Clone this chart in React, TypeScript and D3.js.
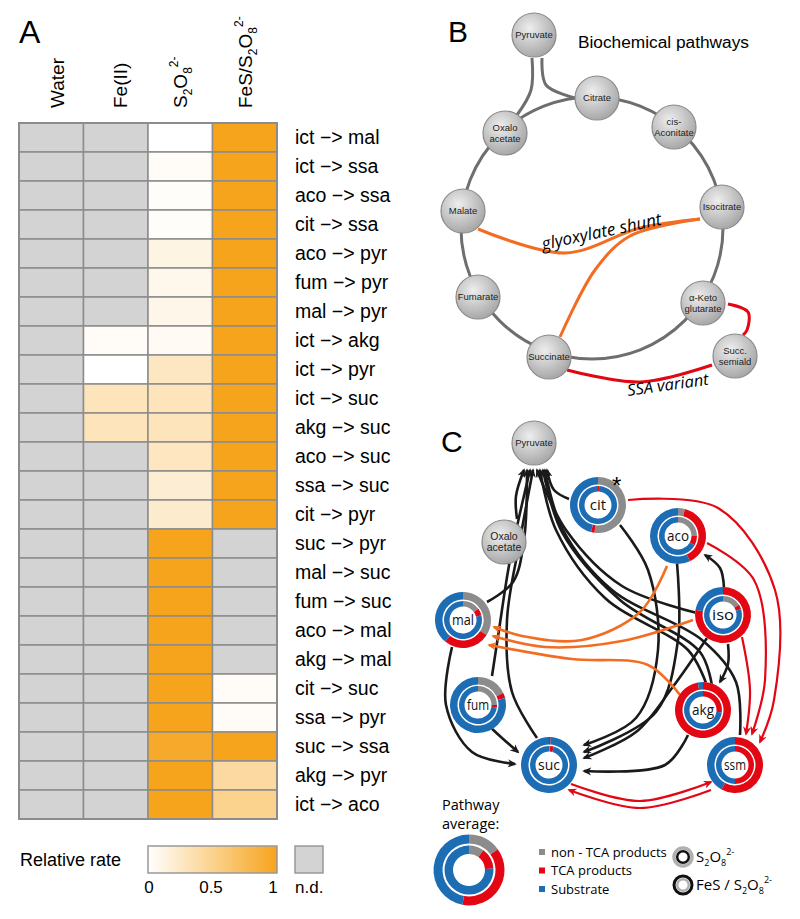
import * as d3 from 'd3';

// ---- Panel A data ----
const reactions = [
  'ict −> mal', 'ict −> ssa', 'aco −> ssa', 'cit −> ssa', 'aco −> pyr', 'fum −> pyr',
  'mal −> pyr', 'ict −> akg', 'ict −> pyr', 'ict −> suc', 'akg −> suc', 'aco −> suc',
  'ssa −> suc', 'cit −> pyr', 'suc −> pyr', 'mal −> suc', 'fum −> suc', 'aco −> mal',
  'akg −> mal', 'cit −> suc', 'ssa −> pyr', 'suc −> ssa', 'akg −> pyr', 'ict −> aco',
];
const conditions = ['Water', 'Fe(II)', 'S2O8', 'FeS/S2O8'];
// null = n.d.
const water = [null, null, null, null, null, null, null, null, null, null, null, null,
  null, null, null, null, null, null, null, null, null, null, null, null];
const fe2 = [null, null, null, null, null, null, null, 0.04, 0, 0.3, 0.3, null,
  null, null, null, null, null, null, null, null, null, null, null, null];
const s2o8 = [0, 0.03, 0.02, 0.02, 0.12, 0.09, 0.1, 0.05, 0.27, 0.3, 0.3, 0.28,
  0.2, 0.22, 1, 1, 1, 1, 1, 1, 1, 0.94, 1, 1];
const fesS2o8 = [1, 1, 1, 1, 1, 1, 1, 1, 1, 1, 1, 1,
  1, 1, null, null, null, null, null, 0.04, 0.04, 1, 0.42, 0.5];
const columns = [water, fe2, s2o8, fesS2o8];
const legendTicks = [0, 0.5, 1];

// ---- Panel B ----
const pathwayNodes = [
  { id: 'Pyruvate', lines: ['Pyruvate'] },
  { id: 'Citrate', lines: ['Citrate'] },
  { id: 'Aconitate', lines: ['cis-', 'Aconitate'] },
  { id: 'Oxalo', lines: ['Oxalo', 'acetate'] },
  { id: 'Malate', lines: ['Malate'] },
  { id: 'Isocitrate', lines: ['Isocitrate'] },
  { id: 'Fumarate', lines: ['Fumarate'] },
  { id: 'Keto', lines: ['α-Keto', 'glutarate'] },
  { id: 'Succinate', lines: ['Succinate'] },
  { id: 'SSA', lines: ['Succ.', 'semiald'] },
];

// ---- Panel C: fractions [non-TCA, TCA, substrate] ----
const metabolites = ['cit', 'aco', 'iso', 'mal', 'fum', 'suc', 'akg', 'ssm'];
const innerS2O8 = [
  [0, 1, 99], [25, 8, 67], [16, 4, 80], [15, 6, 79],
  [25, 2, 73], [1, 3, 96], [0, 27, 73], [0, 50, 50],
];
const outerFeS = [
  [52, 2, 46], [4, 39, 57], [0, 78, 22], [34, 27, 39],
  [18, 3, 79], [0, 1, 99], [0, 97, 3], [0, 58, 42],
];
const avgInner = [10, 14, 76];
const avgOuter = [15, 38, 47];
const fractionLabels = ['non - TCA products', 'TCA products', 'Substrate'];

const cEdges = [
  // black: to pyruvate
  { from: 'oxa', to: 'pyr', kind: 'k' }, { from: 'cit', to: 'pyr', kind: 'k' },
  { from: 'mal', to: 'pyr', kind: 'k' }, { from: 'fum', to: 'pyr', kind: 'k' },
  { from: 'suc', to: 'pyr', kind: 'k' }, { from: 'iso', to: 'pyr', kind: 'k' },
  { from: 'aco', to: 'pyr', kind: 'k' }, { from: 'akg', to: 'pyr', kind: 'k' },
  { from: 'ssm', to: 'pyr', kind: 'k' },
  // black: to succinate
  { from: 'mal', to: 'suc', kind: 'k' }, { from: 'fum', to: 'suc', kind: 'k' },
  { from: 'cit', to: 'suc', kind: 'k' }, { from: 'aco', to: 'suc', kind: 'k' },
  { from: 'iso', to: 'suc', kind: 'k' }, { from: 'akg', to: 'suc', kind: 'k' },
  { from: 'iso', to: 'aco', kind: 'k' }, { from: 'iso', to: 'akg', kind: 'k' },
  // orange: glyoxylate shunt
  { from: 'aco', to: 'mal', kind: 'o' }, { from: 'iso', to: 'mal', kind: 'o' },
  { from: 'akg', to: 'mal', kind: 'o' },
  // red: SSA variant
  { from: 'cit', to: 'ssm', kind: 'r' }, { from: 'aco', to: 'ssm', kind: 'r' },
  { from: 'iso', to: 'ssm', kind: 'r' }, { from: 'suc', to: 'ssm', kind: 'r' },
  { from: 'ssm', to: 'suc', kind: 'r' },
];

// ---- layout ----
const bPos: Record<string, [number, number]> = {
  Pyruvate: [534, 35], Citrate: [597, 98], Aconitate: [674, 127], Oxalo: [505, 133],
  Malate: [463, 211], Isocitrate: [722, 207], Fumarate: [478, 297], Keto: [703, 303],
  Succinate: [549, 357], SSA: [735, 356],
};
const cPos: Record<string, [number, number]> = {
  pyr: [534, 443], oxa: [504, 542], cit: [598, 505], aco: [678, 536], iso: [723, 615],
  mal: [463, 620], fum: [478, 705], suc: [549, 765], akg: [703, 710], ssm: [735, 765],
};
const cRoutes: [number, number][][] = [
  [[517, 519], [516, 496], [524, 470]],
  [[569, 499], [554, 490], [547, 470]],
  [[487, 602], [513, 582], [524, 540], [527, 470]],
  [[492, 676], [499, 630], [510, 560], [530, 470]],
  [[537, 738], [512, 692], [507, 620], [520, 540], [533, 470]],
  [[697, 613], [622, 586], [566, 530], [537, 470]],
  [[706, 683], [688, 650], [605, 598], [556, 530], [540, 470]],
  [[712, 686], [700, 652], [620, 600], [562, 532], [543, 470]],
  [[740, 735], [736, 682], [702, 640], [612, 590], [562, 528], [545, 470]],
  [[452, 647], [446, 705], [472, 752], [515, 764]],
  [[488, 725], [502, 738], [518, 752]],
  [[620, 525], [648, 570], [658, 650], [636, 718], [584, 745]],
  [[677, 563], [678, 640], [656, 712], [584, 752]],
  [[707, 638], [672, 688], [636, 732], [584, 758]],
  [[688, 735], [665, 765], [584, 771]],
  [[724, 588], [720, 568], [705, 555]],
  [[728, 644], [728, 664], [720, 682]],
  [[667, 566], [640, 612], [582, 640], [522, 636], [494, 627]],
  [[693, 620], [622, 641], [545, 647], [493, 636]],
  [[680, 695], [648, 665], [572, 659], [489, 645]],
  [[628, 500], [718, 508], [775, 590], [774, 700], [760, 742]],
  [[707, 543], [754, 580], [765, 680], [752, 734]],
  [[742, 637], [750, 690], [746, 734]],
  [[571, 784], [640, 801], [711, 782]],
  [[711, 790], [640, 808], [569, 790]],
];

const ORANGE_CELL = '#F7A41D';
const ND = '#D3D3D3';
const GRAY = '#8C8C8C';
const RED = '#E30613';
const BLUE = '#1D6DB5';
const LINE_ORANGE = '#F26D21';
const sliceColors = [GRAY, RED, BLUE];
const sans = '"Liberation Sans", Arial, sans-serif';
const open = '"Open Sans", "Liberation Sans", sans-serif';

const App = () => {
  const x = d3.scaleBand<string>().domain(conditions).range([19, 277]);
  const y = d3.scaleBand<string>().domain(reactions).range([123, 819]);
  const color = d3.scaleLinear<string>().domain([0, 1]).range(['#ffffff', ORANGE_CELL]);
  const legendX = d3.scaleLinear().domain([0, 1]).range([149, 273]);
  const headerShift = [13, 11, 7, 7];

  const pie = d3.pie<number>().sort(null).value((d) => d);
  const outerArc = d3.arc<d3.PieArcDatum<number>>().innerRadius(20.5).outerRadius(28);
  const innerArc = d3.arc<d3.PieArcDatum<number>>().innerRadius(13.5).outerRadius(19);
  const avgOuterArc = d3.arc<d3.PieArcDatum<number>>().innerRadius(26.5).outerRadius(35.5);
  const avgInnerArc = d3.arc<d3.PieArcDatum<number>>().innerRadius(16).outerRadius(24.5);
  const curve = d3.line().curve(d3.curveCatmullRom.alpha(0.5));

  const edgeStyle: Record<string, { stroke: string; marker: string; w: number }> = {
    k: { stroke: '#1a1a1a', marker: 'url(#ah-k)', w: 2.6 },
    o: { stroke: LINE_ORANGE, marker: 'url(#ah-o)', w: 2.6 },
    r: { stroke: RED, marker: 'url(#ah-r)', w: 2.2 },
  };

  const header = (c: string) => {
    if (c === 'S2O8')
      return (<>S<tspan fontSize={12} dy={5}>2</tspan><tspan dy={-5}>O</tspan><tspan fontSize={12} dy={5}>8</tspan><tspan fontSize={12} dy={-14}>2-</tspan></>);
    if (c === 'FeS/S2O8')
      return (<>FeS/S<tspan fontSize={12} dy={5}>2</tspan><tspan dy={-5}>O</tspan><tspan fontSize={12} dy={5}>8</tspan><tspan fontSize={12} dy={-14}>2-</tspan></>);
    return c;
  };

  const grayNode = (cx: number, cy: number, lines: string[], key: string, fs = 9.5) => (
    <g key={key} transform={`translate(${cx},${cy})`}>
      <circle r={22} fill="url(#nodeGrad)" stroke="#8a8a8a" strokeWidth={1.2} />
      {lines.map((l, i) => (
        <text key={i} y={(i - (lines.length - 1) / 2) * 11} dy="0.35em" textAnchor="middle"
          fontSize={fs} fill="#222" fontFamily={sans}>{l}</text>
      ))}
    </g>
  );

  const bLine = d3.line().curve(d3.curveCatmullRom.alpha(0.5));
  const bRing = 131;
  const bCenter: [number, number] = [592, 228];

  return (
    <svg width={800} height={919} style={{ position: 'absolute', left: 0, top: 0, background: '#fff' }}>
      <defs>
        <radialGradient id="nodeGrad" cx="40%" cy="35%" r="70%">
          <stop offset="0%" stopColor="#eeeeee" />
          <stop offset="100%" stopColor="#a3a3a3" />
        </radialGradient>
        <linearGradient id="rateGrad" x1="0" x2="1" y1="0" y2="0">
          <stop offset="0%" stopColor={color(0)} />
          <stop offset="50%" stopColor={color(0.5)} />
          <stop offset="100%" stopColor={color(1)} />
        </linearGradient>
        {[['ah-k', '#1a1a1a'], ['ah-o', LINE_ORANGE], ['ah-r', RED]].map(([id, c]) => (
          <marker key={id} id={id} viewBox="0 0 10 10" refX={8} refY={5} markerWidth={9} markerHeight={9}
            markerUnits="userSpaceOnUse" orient="auto">
            <path d="M0,0.5 L10,5 L0,9.5 L3,5 z" fill={c} />
          </marker>
        ))}
      </defs>

      {/* ---------- Panel A ---------- */}
      <text x={19} y={43} fontSize={32} fontFamily={sans}>A</text>
      {conditions.map((c, i) => {
        const cx = (x(c) as number) + x.bandwidth() / 2 + headerShift[i];
        return (
          <text key={c} transform={`translate(${cx},108) rotate(-90)`} fontSize={19} fontFamily={sans}>
            {header(c)}
          </text>
        );
      })}
      {columns.map((col, ci) =>
        col.map((v, ri) => (
          <rect key={`${ci}-${ri}`} x={x(conditions[ci])} y={y(reactions[ri])}
            width={x.bandwidth()} height={y.bandwidth()}
            fill={v === null ? ND : color(v)} stroke="#8C8C8C" strokeWidth={1.5} />
        )),
      )}
      <rect x={19} y={123} width={258} height={696} fill="none" stroke="#8C8C8C" strokeWidth={2} />
      {reactions.map((r) => (
        <text key={r} x={295} y={(y(r) as number) + y.bandwidth() / 2} dy="0.35em"
          fontSize={19.5} fontFamily={sans}>{r}</text>
      ))}
      <text x={20} y={866} fontSize={18} fontFamily={sans}>Relative rate</text>
      <rect x={148} y={846} width={129} height={27} fill="url(#rateGrad)" stroke="#999" strokeWidth={1.5} />
      <rect x={295} y={846} width={28} height={27} fill={ND} stroke="#999" strokeWidth={1.5} />
      {legendTicks.map((t) => (
        <text key={t} x={legendX(t)} y={893} textAnchor="middle" fontSize={17} fontFamily={sans}>{t}</text>
      ))}
      <text x={295} y={893} fontSize={17} fontFamily={sans}>n.d.</text>

      {/* ---------- Panel B ---------- */}
      <text x={448} y={42} fontSize={30} fontFamily={sans}>B</text>
      <text x={578} y={48} fontSize={17.3} fontFamily={sans}>Biochemical pathways</text>
      <circle cx={bCenter[0]} cy={bCenter[1]} r={bRing} fill="none" stroke="#6e6e6e" strokeWidth={3} />
      <path d={bLine([[532, 58], [531, 90], [517, 115]]) as string} fill="none" stroke="#6e6e6e" strokeWidth={3} />
      <path d={bLine([[542, 58], [546, 85], [575, 98]]) as string} fill="none" stroke="#6e6e6e" strokeWidth={3} />
      <path d={bLine([[478, 229], [565, 253], [640, 228], [700, 219]]) as string} fill="none" stroke={LINE_ORANGE} strokeWidth={3} />
      <path d={bLine([[560, 337], [595, 270], [630, 236], [700, 219]]) as string} fill="none" stroke={LINE_ORANGE} strokeWidth={3} />
      <path d={bLine([[728, 304], [748, 312], [747, 330], [743, 335]]) as string} fill="none" stroke={RED} strokeWidth={3} />
      <path d={bLine([[567, 370], [640, 382], [712, 365]]) as string} fill="none" stroke={RED} strokeWidth={3} />
      <text transform="translate(543,250) rotate(-12)" fontSize={17} fontStyle="italic" fontFamily={open}
        textLength={122} lengthAdjust="spacingAndGlyphs">glyoxylate shunt</text>
      <text transform="translate(628,396) rotate(-8)" fontSize={16} fontStyle="italic" fontFamily={open}
        textLength={82} lengthAdjust="spacingAndGlyphs">SSA variant</text>
      {pathwayNodes.map((n) => grayNode(bPos[n.id][0], bPos[n.id][1], n.lines, `b-${n.id}`))}

      {/* ---------- Panel C ---------- */}
      <text x={441} y={452} fontSize={30} fontFamily={sans}>C</text>
      {cEdges.map((e, i) => {
        const s = edgeStyle[e.kind];
        return (
          <path key={`e${i}`} d={curve(cRoutes[i]) as string} fill="none" stroke={s.stroke}
            strokeWidth={s.w} markerEnd={s.marker} />
        );
      })}
      {grayNode(cPos.pyr[0], cPos.pyr[1], ['Pyruvate'], 'c-pyr')}
      {grayNode(cPos.oxa[0], cPos.oxa[1], ['Oxalo', 'acetate'], 'c-oxa', 10.5)}
      {metabolites.map((m, i) => (
        <g key={m} transform={`translate(${cPos[m][0]},${cPos[m][1]})`}>
          <circle r={28} fill="#fff" />
          {pie(outerFeS[i]).map((a, j) => (
            <path key={`o${j}`} d={outerArc(a) as string} fill={sliceColors[j]} />
          ))}
          {pie(innerS2O8[i]).map((a, j) => (
            <path key={`i${j}`} d={innerArc(a) as string} fill={sliceColors[j]} />
          ))}
          <text dy="0.36em" textAnchor="middle" fontSize={15} fontFamily={open} fill="#111"
            textLength={m === 'cit' ? undefined : 22} lengthAdjust="spacingAndGlyphs">{m}</text>
        </g>
      ))}
      <text x={612} y={494} fontSize={24} fontFamily={sans}>*</text>

      {/* legend C */}
      <text x={442} y={810} fontSize={14.5} fontFamily={open}>Pathway</text>
      <text x={442} y={829} fontSize={14.5} fontFamily={open}>average:</text>
      <g transform="translate(469,870)">
        {pie(avgOuter).map((a, j) => (
          <path key={`ao${j}`} d={avgOuterArc(a) as string} fill={sliceColors[j]} />
        ))}
        {pie(avgInner).map((a, j) => (
          <path key={`ai${j}`} d={avgInnerArc(a) as string} fill={sliceColors[j]} />
        ))}
      </g>
      {fractionLabels.map((l, i) => (
        <g key={l} transform={`translate(539,${852 + i * 18.5})`}>
          <rect x={0} y={-3} width={6} height={6} fill={sliceColors[i]} />
          <text x={12} dy="0.35em" fontSize={13} fontFamily={open}>{l}</text>
        </g>
      ))}
      <g transform="translate(683,857)">
        <circle r={9} fill="none" stroke="#b0b0b0" strokeWidth={3.5} />
        <circle r={5.8} fill="none" stroke="#111" strokeWidth={2.5} />
        <text x={13} dy="0.35em" fontSize={15} fontFamily={open}>S<tspan fontSize={9} dy={4}>2</tspan><tspan dy={-4}>O</tspan><tspan fontSize={9} dy={4}>8</tspan><tspan fontSize={9} dy={-11}>2-</tspan></text>
      </g>
      <g transform="translate(683,885)">
        <circle r={9} fill="none" stroke="#111" strokeWidth={3} />
        <circle r={5.8} fill="none" stroke="#b0b0b0" strokeWidth={2.5} />
        <text x={13} dy="0.35em" fontSize={15} fontFamily={open}>FeS / S<tspan fontSize={9} dy={4}>2</tspan><tspan dy={-4}>O</tspan><tspan fontSize={9} dy={4}>8</tspan><tspan fontSize={9} dy={-11}>2-</tspan></text>
      </g>
    </svg>
  );
};

export default App;
